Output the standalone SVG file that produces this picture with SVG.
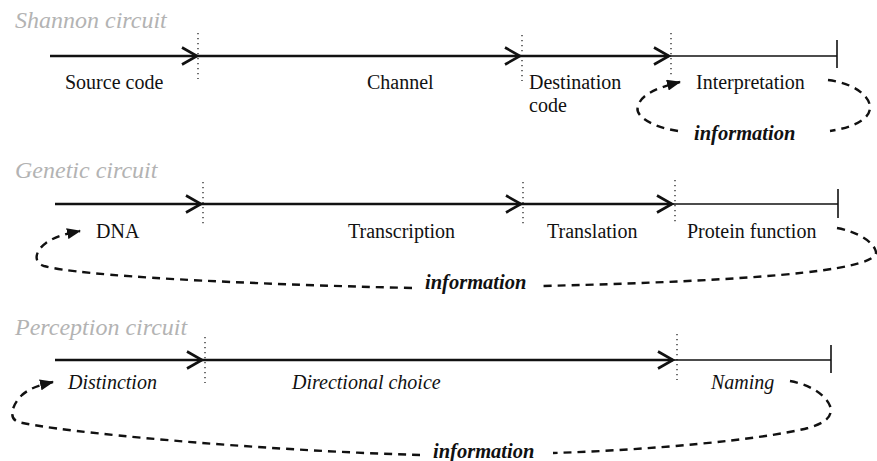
<svg xmlns="http://www.w3.org/2000/svg" width="877" height="461" viewBox="0 0 877 461">
<style>
  text { font-family: "Liberation Serif", "Times New Roman", serif; fill: #111; }
  .title { font-size: 24px; font-style: italic; fill: #b3b3b3; }
  .lbl { font-size: 20px; }
  .it { font-style: italic; }
  .info { font-size: 20.5px; font-style: italic; font-weight: bold; }
  .main { stroke: #111; stroke-width: 2.6; fill: none; }
  .thin { stroke: #111; stroke-width: 1.6; fill: none; }
  .dot { stroke: #111; stroke-width: 1.2; stroke-dasharray: 1.2 3.8; fill: none; }
  .loop { stroke: #111; stroke-width: 2.4; stroke-dasharray: 8 6; fill: none; }
</style>
<defs>
  <path id="chev" d="M -15 -8.5 L 0 0 L -15 8.5" fill="none" stroke="#111" stroke-width="2.6"/>
  <marker id="tri" viewBox="0 0 14 11" refX="13" refY="5.5" markerWidth="14" markerHeight="11" markerUnits="userSpaceOnUse" orient="auto">
    <path d="M0 0 L14 5.5 L0 11 Z" fill="#111"/>
  </marker>
</defs>

<g id="shannon-title"><text class="title" x="15" y="28">Shannon circuit</text></g>
<g id="source-code"><text class="lbl" x="65" y="89">Source code</text></g>
<g id="channel"><text class="lbl" x="367" y="89">Channel</text></g>
<g id="destination-code"><text class="lbl" x="529" y="89">Destination</text><text class="lbl" x="529" y="112">code</text></g>
<g id="interpretation"><text class="lbl" x="696" y="89">Interpretation</text></g>
<g id="shannon-info"><text class="info" x="694" y="140">information</text></g>

<g id="genetic-title"><text class="title" x="15" y="178">Genetic circuit</text></g>
<g id="dna"><text class="lbl" x="96" y="238">DNA</text></g>
<g id="transcription"><text class="lbl" x="348" y="238">Transcription</text></g>
<g id="translation"><text class="lbl" x="547" y="238">Translation</text></g>
<g id="protein-function"><text class="lbl" x="687" y="238">Protein function</text></g>
<g id="genetic-info"><text class="info" x="425" y="289">information</text></g>

<g id="perception-title"><text class="title" x="15" y="335">Perception circuit</text></g>
<g id="distinction"><text class="lbl it" x="68" y="389">Distinction</text></g>
<g id="directional-choice"><text class="lbl it" x="292" y="389">Directional choice</text></g>
<g id="naming"><text class="lbl it" x="711" y="389">Naming</text></g>
<g id="perception-info"><text class="info" x="433" y="458">information</text></g>

<g id="connectors">
  <!-- Shannon -->
  <line class="main" x1="50" y1="56" x2="669" y2="56"/>
  <line class="thin" x1="669" y1="56" x2="837" y2="56"/>
  <use href="#chev" x="197" y="56"/>
  <use href="#chev" x="520" y="56"/>
  <use href="#chev" x="669" y="56"/>
  <line class="dot" x1="198" y1="33" x2="198" y2="79"/>
  <line class="dot" x1="522" y1="35" x2="522" y2="81"/>
  <line class="dot" x1="671" y1="33" x2="671" y2="76"/>
  <line class="thin" x1="837" y1="40" x2="837" y2="68"/>
  <path class="loop" d="M 678 131 C 652 127, 634 116, 638 106 C 641 96, 652 89, 680 82" marker-end="url(#tri)"/>
  <path class="loop" d="M 828 80 C 852 83, 868 94, 870 106 C 871 118, 856 127, 830 131"/>

  <!-- Genetic -->
  <line class="main" x1="55" y1="204" x2="672" y2="204"/>
  <line class="thin" x1="672" y1="204" x2="838" y2="204"/>
  <use href="#chev" x="201" y="204"/>
  <use href="#chev" x="521" y="204"/>
  <use href="#chev" x="672" y="204"/>
  <line class="dot" x1="203" y1="182" x2="203" y2="227"/>
  <line class="dot" x1="523" y1="182" x2="523" y2="227"/>
  <line class="dot" x1="675" y1="180" x2="675" y2="225"/>
  <line class="thin" x1="838" y1="189" x2="838" y2="218"/>
  <path class="loop" d="M 412 288 C 240 284, 80 276, 44 266 C 32 262, 36 250, 46 243 C 56 236, 66 234, 80 231" marker-end="url(#tri)"/>
  <path class="loop" d="M 837 228 C 858 232, 874 242, 876 252 C 877 268, 790 280, 543 286"/>

  <!-- Perception -->
  <line class="main" x1="55" y1="360" x2="673" y2="360"/>
  <line class="thin" x1="673" y1="360" x2="831" y2="360"/>
  <use href="#chev" x="202" y="360"/>
  <use href="#chev" x="673" y="360"/>
  <line class="dot" x1="205" y1="337" x2="205" y2="383"/>
  <line class="dot" x1="677" y1="334" x2="677" y2="380"/>
  <line class="thin" x1="831" y1="345" x2="831" y2="373"/>
  <path class="loop" d="M 420 455 C 250 450, 60 432, 18 422 C 8 418, 12 405, 22 395 C 30 388, 40 385, 53 382" marker-end="url(#tri)"/>
  <path class="loop" d="M 790 381 C 812 385, 826 396, 830 406 C 834 418, 822 424, 808 428 C 760 440, 650 450, 553 453"/>
</g>
</svg>
